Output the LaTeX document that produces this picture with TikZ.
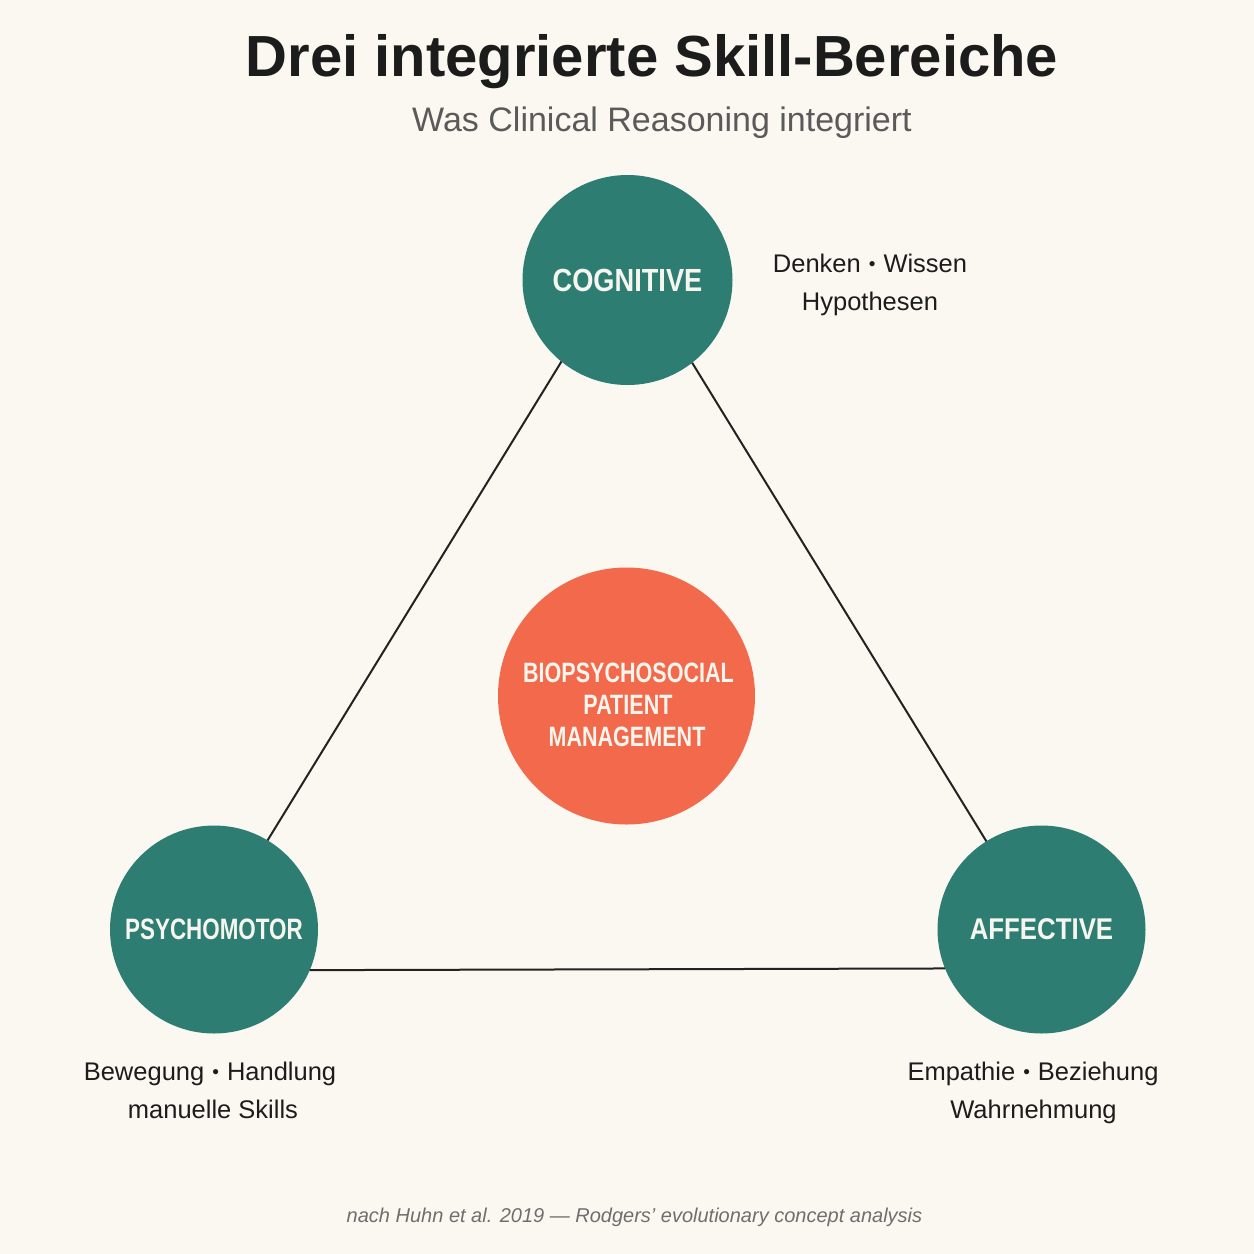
\documentclass[tikz,border=0pt]{standalone}
\usepackage{fontspec}
\setmainfont{Liberation Sans}
\usepackage{graphicx}
\definecolor{bgc}{HTML}{FBF8F1}
\definecolor{tealc}{HTML}{2D7D73}
\definecolor{orangec}{HTML}{F2694C}
\definecolor{titlec}{HTML}{1C1C1C}
\definecolor{subc}{HTML}{5A5A5A}
\definecolor{footc}{HTML}{6E6E6E}
\definecolor{linec}{HTML}{222222}
\definecolor{labc}{HTML}{F7F6EE}
\tikzset{
  hub/.style={circle, fill=tealc, inner sep=0pt, outer sep=0pt, text=labc},
  core/.style={circle, fill=orangec, inner sep=0pt, outer sep=0pt, text=labc, align=center},
  conn/.style={draw=linec, line width=2pt},
  body/.style={inner sep=0pt, anchor=base, text=titlec, font=\fontsize{25.5}{30}\selectfont},
}
\newcommand{\lab}[3]{\scalebox{#1}[1]{\fontsize{#2}{#2}\selectfont\bfseries #3}}
\newcommand{\dotsep}{\hspace{8pt}\raisebox{2pt}{\scalebox{0.75}{•}}\hspace{8pt}}
\begin{document}
\begin{tikzpicture}[x=1pt,y=-1pt]
\fill[bgc] (0,0) rectangle (1254,1254);
\useasboundingbox (0,0) rectangle (1254,1254);

% title
\node[inner sep=0pt, anchor=base, text=titlec, font=\fontsize{58}{60}\selectfont\bfseries] (title) at (652,76) {Drei integrierte Skill-Bereiche};
\node[inner sep=0pt, anchor=base, text=subc, font=\fontsize{34}{36}\selectfont] (subtitle) at (662,131) {Was Clinical Reasoning integriert};

% circles
\node[hub, minimum size=210pt] (cog) at (627.5,280) {\lab{0.85}{32}{COGNITIVE}};
\node[hub, minimum size=208pt] (psy) at (214,929.5) {\lab{0.76}{29.5}{PSYCHOMOTOR}};
\node[hub, minimum size=208pt] (aff) at (1041.5,929.5) {\lab{0.86}{30}{AFFECTIVE}};
\node[core, minimum size=257pt] (bio) at (626.5,696) {};
\node[inner sep=0pt, anchor=base, text=labc] (bio1) at (628.5,682) {\lab{0.77}{28}{BIOPSYCHOSOCIAL}};
\node[inner sep=0pt, anchor=base, text=labc] (bio2) at (628,714.5) {\lab{0.77}{28}{PATIENT}};
\node[inner sep=0pt, anchor=base, text=labc] (bio3) at (627,746.5) {\lab{0.77}{28}{MANAGEMENT}};

% connectors
\draw[conn] (cog.231.7) -- (psy.59);
\draw[conn] (cog.308.3) -- (aff.122);
\draw[conn] (psy.337.8) -- (aff.202.2);

% descriptions
\node[body] (cogd1) at (870,272) {Denken\dotsep Wissen};
\node[body] (cogd2) at (870,310) {Hypothesen};
\node[body] (psyd1) at (210,1080) {Bewegung\dotsep Handlung};
\node[body] (psyd2) at (213,1118) {manuelle Skills};
\node[body] (affd1) at (1033,1080) {Empathie\dotsep Beziehung};
\node[body] (affd2) at (1033.5,1118) {Wahrnehmung};

% footer
\node[inner sep=0pt, anchor=base, text=footc, font=\fontsize{20}{22}\selectfont\itshape] (foot) at (634.5,1222) {nach Huhn et al. 2019 — Rodgers' evolutionary concept analysis};
\end{tikzpicture}
\end{document}
